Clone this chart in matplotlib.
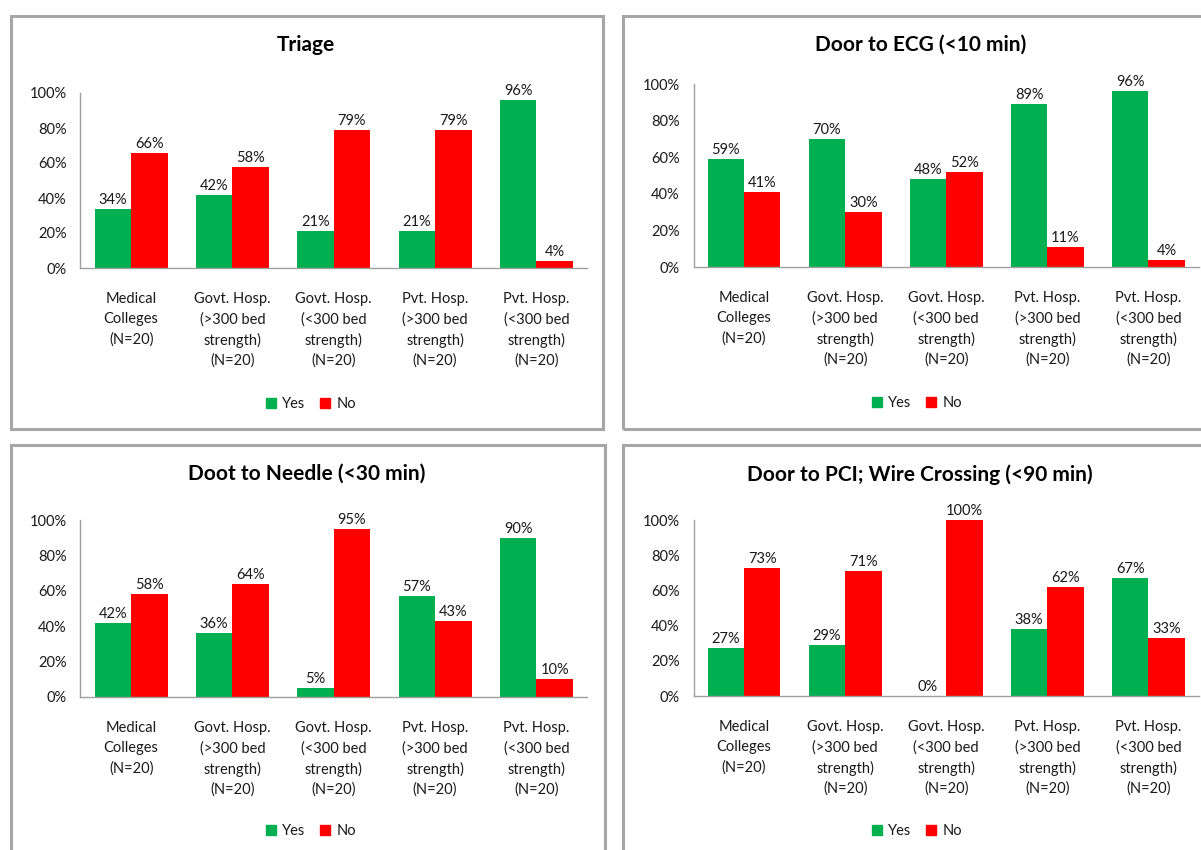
import numpy as np
import matplotlib.pyplot as plt
from matplotlib.patches import Rectangle, Patch

# Categories shared by all four panels
categories = ["Medical\nColleges\n(N=20)",
              "Govt. Hosp.\n(>300 bed\nstrength)\n(N=20)",
              "Govt. Hosp.\n(<300 bed\nstrength)\n(N=20)",
              "Pvt. Hosp.\n(>300 bed\nstrength)\n(N=20)",
              "Pvt. Hosp.\n(<300 bed\nstrength)\n(N=20)"]

titles = ["Triage", "Door to ECG (<10 min)",
          "Doot to Needle (<30 min)", "Door to PCI; Wire Crossing (<90 min)"]

triage_yes = [34, 42, 21, 21, 96]
triage_no = [66, 58, 79, 79, 4]
ecg_yes = [59, 70, 48, 89, 96]
ecg_no = [41, 30, 52, 11, 4]
needle_yes = [42, 36, 5, 57, 90]
needle_no = [58, 64, 95, 43, 10]
pci_yes = [27, 29, 0, 38, 67]
pci_no = [73, 71, 100, 62, 33]

yes_data = [triage_yes, ecg_yes, needle_yes, pci_yes]
no_data = [triage_no, ecg_no, needle_no, pci_no]

GREEN = "#00B050"
RED = "#FF0000"
TXT = "#1a1a1a"
plt.rcParams['font.family'] = ['Lato', 'DejaVu Sans']

W, H = 1201, 850
fig = plt.figure(figsize=(W / 100, H / 100), dpi=100)

def fx(px):
    return px / W

def fy(py):
    return 1 - py / H

# panel frames (pixel boxes: left, top, right, bottom)
frames = [(10.5, 15.5, 603.5, 428.5), (622.5, 15.5, 1210, 428.5),
          (10.5, 444.5, 604.5, 860), (622.5, 444.5, 1210, 860)]
for l, t, r, b in frames:
    fig.add_artist(Rectangle((fx(l), fy(b)), fx(r - l), (b - t) / H,
                             transform=fig.transFigure, fill=False,
                             edgecolor="#A6A6A6", linewidth=2.2))

# axes boxes in pixels: left, top, right, bottom
axes_px = [(80.5, 93, 587, 268), (693.5, 84, 1199, 267),
           (80.5, 520, 587, 697), (693.5, 520, 1199, 696)]
title_pos = [(306, 45), (921, 45), (307, 474), (920, 475)]
legend_pos = [(311, 404), (917, 403), (311, 831), (917, 831)]

x = np.arange(len(categories))
bw = 0.36

for i in range(4):
    l, t, r, b = axes_px[i]
    ax = fig.add_axes([fx(l), fy(b), fx(r - l), (b - t) / H])
    yes = np.array(yes_data[i]) / 100
    no = np.array(no_data[i]) / 100
    b1 = ax.bar(x - bw / 2, yes, bw, color=GREEN)
    b2 = ax.bar(x + bw / 2, no, bw, color=RED)
    for bars, vals in ((b1, yes_data[i]), (b2, no_data[i])):
        for bar, v in zip(bars, vals):
            ax.annotate(f"{v}%", (bar.get_x() + bar.get_width() / 2, bar.get_height()),
                        xytext=(0, 2), textcoords="offset pixels",
                        ha="center", va="bottom", fontsize=10.5, color=TXT,
                        annotation_clip=False)
    ax.set_xlim(-0.5, 4.5)
    ax.set_ylim(0, 1)
    ax.set_yticks(np.arange(0, 1.01, 0.2))
    ax.set_yticklabels([f"{int(v)}%" for v in np.arange(0, 101, 20)])
    ax.set_xticks(x)
    ax.set_xticklabels(categories, linespacing=1.52)
    ax.tick_params(axis="both", length=0, labelsize=10.5, colors=TXT)
    ax.tick_params(axis="x", pad=17.5)
    ax.tick_params(axis="y", pad=10)
    for s in ("top", "right"):
        ax.spines[s].set_visible(False)
    for s in ("left", "bottom"):
        ax.spines[s].set_color("#A0A0A0")
        ax.spines[s].set_linewidth(1.0)

    tx, ty = title_pos[i]
    fig.text(fx(tx), fy(ty), titles[i], ha="center", va="center",
             fontsize=15, fontweight="bold", color="black")
    lx, ly = legend_pos[i]
    handles = [Patch(color=GREEN, label="Yes"), Patch(color=RED, label="No")]
    fig.legend(handles=handles, loc="center", bbox_to_anchor=(fx(lx), fy(ly)),
               ncol=2, frameon=False, fontsize=10.5, handlelength=0.7,
               handleheight=0.7, handletextpad=0.4, columnspacing=1.0,
               labelcolor=TXT)

fig.savefig("out.png", dpi=100, facecolor="white")
